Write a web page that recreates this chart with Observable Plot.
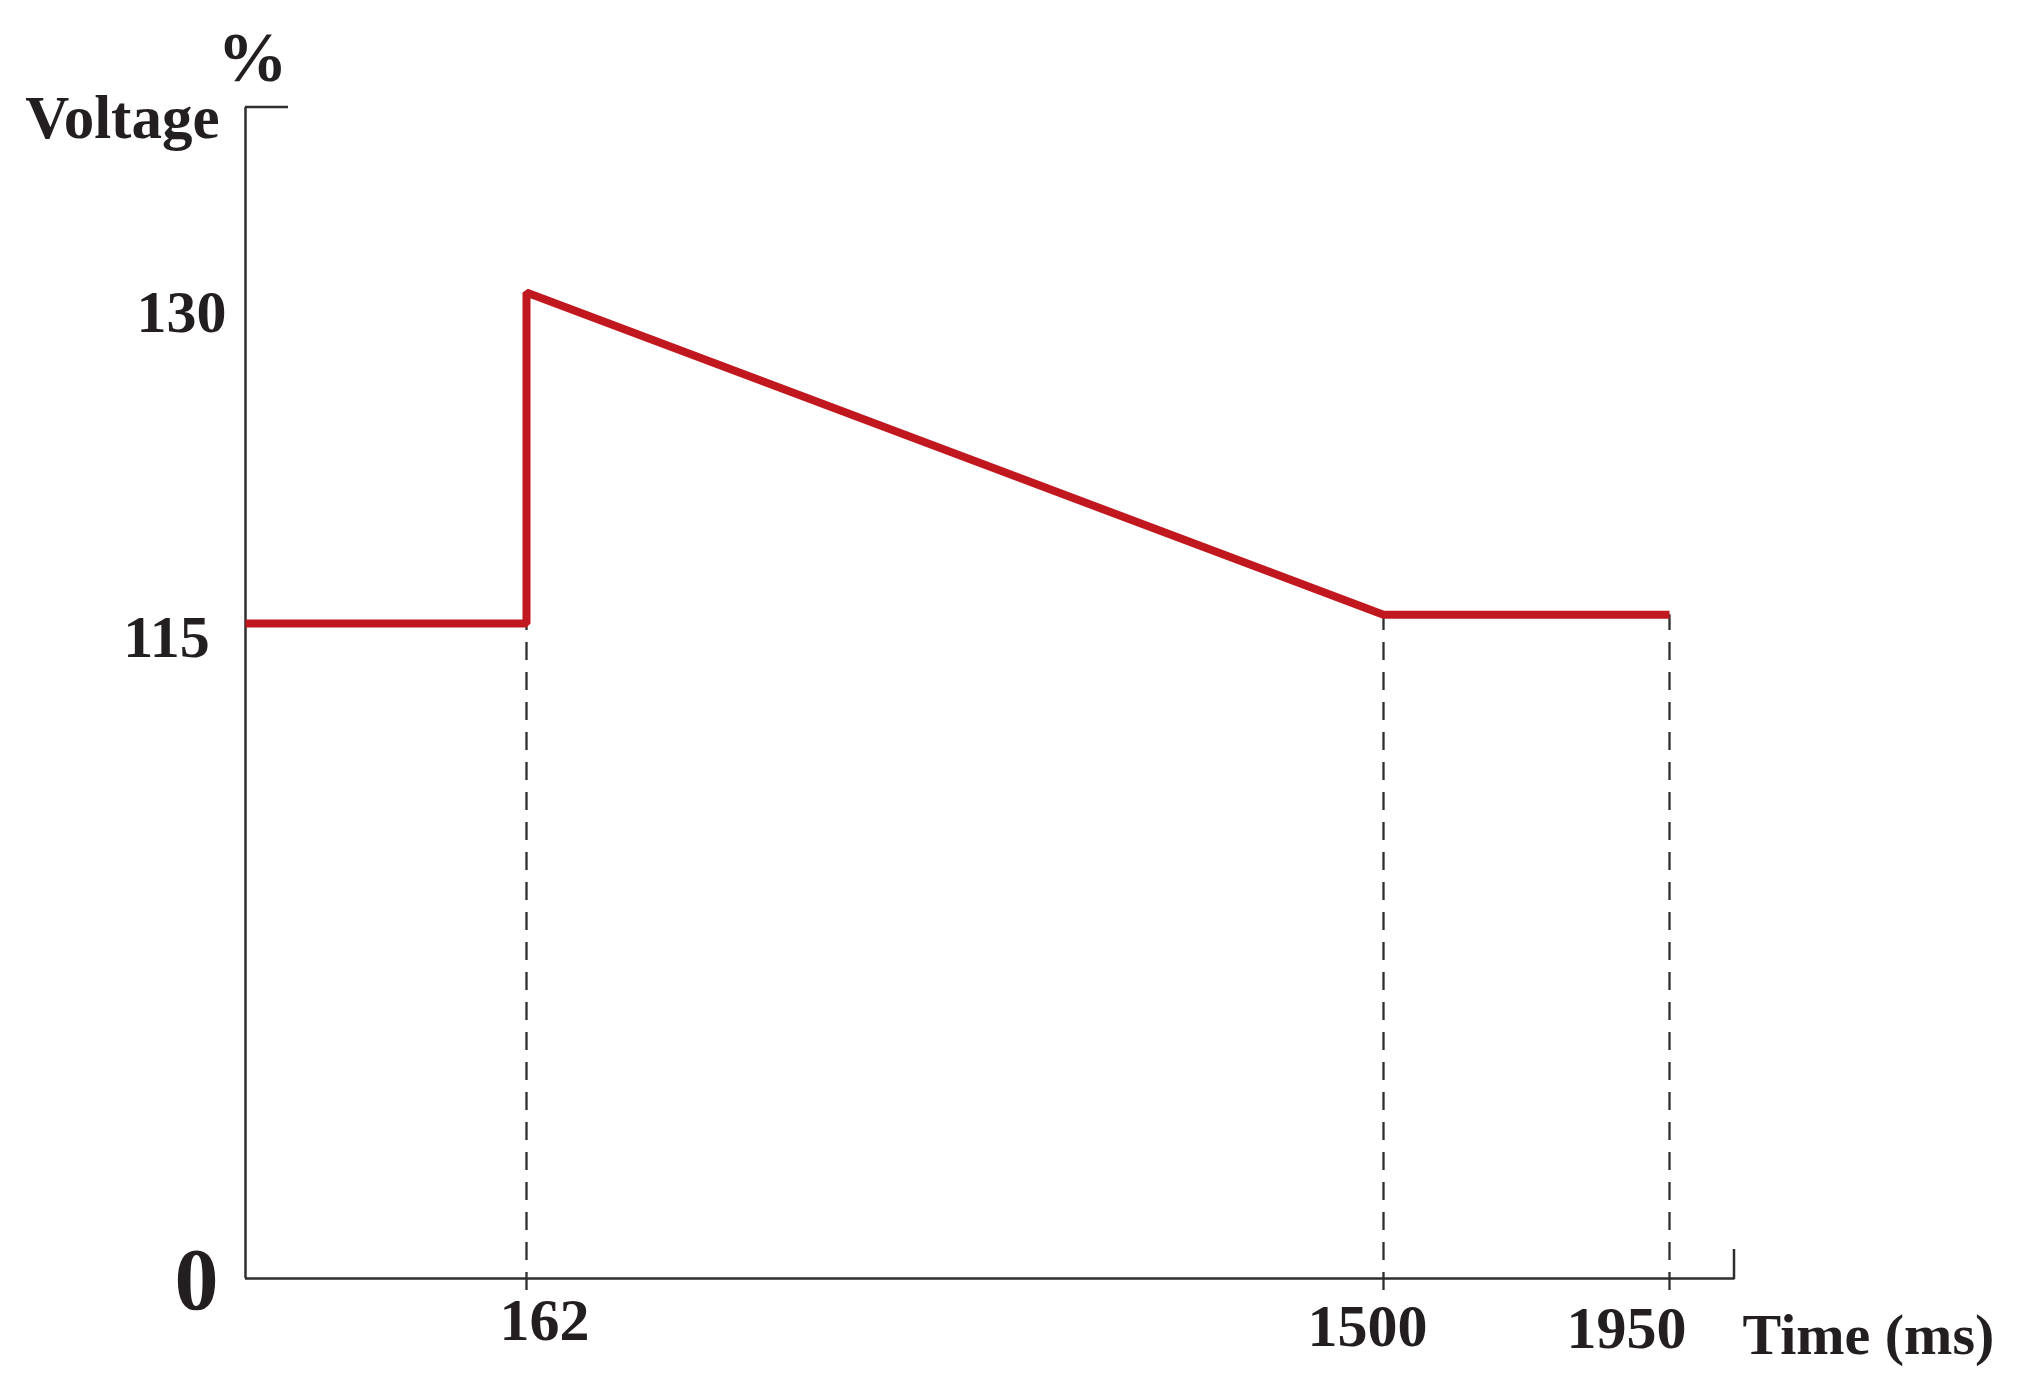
<!DOCTYPE html>
<html>
<head>
<meta charset="utf-8">
<script src="https://cdn.jsdelivr.net/npm/d3@7"></script>
<script src="https://cdn.jsdelivr.net/npm/@observablehq/plot@0.6"></script>
<style>
  html, body { margin: 0; padding: 0; background: #fff; }
  #chart svg { display: block; }
</style>
</head>
<body>
<div id="chart"></div>
<script>
// Data
const times = [0, 162, 162, 1500, 1950];          // ms
const voltage = [115, 115, 130, 115.4, 115.4];     // %
const xTicks = [162, 1500, 1950];
const yTicks = [0, 115, 130];
const xLabel = "Time (ms)";
const yLabel = "Voltage";
const yUnit = "%";

const profile = times.map((t, i) => ({t, v: voltage[i]}));
const guides = xTicks.map(t => ({t, v: d3.min(profile.filter(d => d.t === t), d => d.v)}));

const font = "'Liberation Serif', 'Times New Roman', serif";
const ink = "#231f20";
const axisInk = "#2e2e2e";
const red = "#c1171f";

function caps(index, scales, values, dims) {
  const {width, height, marginLeft, marginRight, marginTop, marginBottom} = dims;
  const x0 = marginLeft, x1 = width - marginRight, y0 = marginTop, y1 = height - marginBottom;
  const g = d3.create("svg:g").attr("stroke", axisInk).attr("stroke-width", 2.5).attr("fill", "none");
  g.append("line").attr("x1", x0).attr("x2", x0 + 43).attr("y1", y0).attr("y2", y0);
  g.append("line").attr("x1", x1).attr("x2", x1).attr("y1", y1 - 29).attr("y2", y1 + 1.25);
  return g.node();
}

const tickText = {fill: ink, fontFamily: font, fontWeight: "bold", fontSize: 60, lineAnchor: "middle", textAnchor: "middle"};

const chart = Plot.plot({
  width: 2021,
  height: 1387,
  marginLeft: 245,
  marginRight: 287,
  marginTop: 107,
  marginBottom: 109,
  style: {background: "#fff", overflow: "visible"},
  x: {type: "linear", domain: [0, 162, 1500, 1950], range: [245, 526, 1383, 1669], axis: null},
  y: {type: "linear", domain: [0, 115, 130], range: [1278, 623, 292], axis: null},
  marks: [
    Plot.ruleX(guides, {x: "t", y1: 0, y2: "v", stroke: axisInk, strokeWidth: 2.3, strokeDasharray: "18,12", insetTop: 12}),
    Plot.ruleX([0], {stroke: axisInk, strokeWidth: 2.5}),
    Plot.ruleY([0], {stroke: axisInk, strokeWidth: 2.5}),
    caps,
    Plot.line(profile, {x: "t", y: "v", stroke: red, strokeWidth: 8, strokeLinejoin: "miter", strokeLinecap: "butt"}),
    // x tick labels
    Plot.text([xTicks[0]], {x: d => d, y: 0, text: d => String(d), dx: 18, dy: 42, ...tickText}),
    Plot.text([xTicks[1]], {x: d => d, y: 0, text: d => String(d), dx: -16, dy: 48, ...tickText}),
    Plot.text([xTicks[2]], {x: d => d, y: 0, text: d => String(d), dx: -43, dy: 50, ...tickText}),
    // y tick labels
    Plot.text([yTicks[0]], {y: d => d, frameAnchor: "left", text: d => String(d), dx: -49, dy: 2, ...tickText, fontSize: 88}),
    Plot.text([yTicks[1]], {y: d => d, frameAnchor: "left", text: d => String(d), dx: -79, dy: 14, ...tickText}),
    Plot.text([yTicks[2]], {y: d => d, frameAnchor: "left", text: d => String(d), dx: -64, dy: 20, ...tickText}),
    // axis titles
    Plot.text([xLabel], {frameAnchor: "bottom-right", text: d => d, dx: 8, dy: 57, ...tickText, fontSize: 58, textAnchor: "start"}),
    Plot.text([yLabel], {frameAnchor: "top-left", text: d => d, dx: -26, dy: 30, ...tickText, fontSize: 61, textAnchor: "end", lineAnchor: "bottom"}),
    Plot.text([yUnit], {frameAnchor: "top-left", text: d => d, dx: 7, dy: -27, ...tickText, fontSize: 70, textAnchor: "middle", lineAnchor: "bottom"})
  ]
});
document.getElementById("chart").appendChild(chart);
</script>
</body>
</html>
